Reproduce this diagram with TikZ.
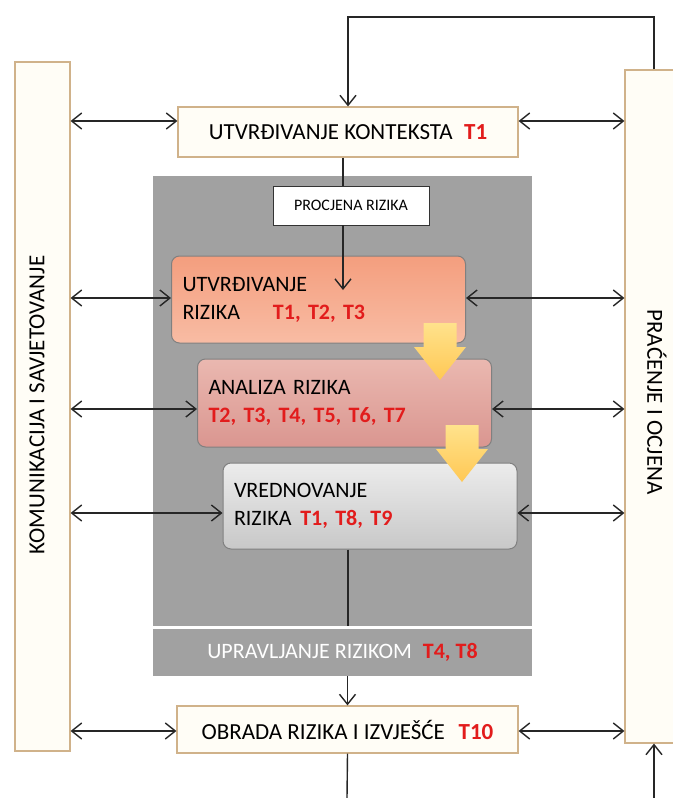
\documentclass[tikz,border=0pt]{standalone}
\usepackage{fontspec}
\setmainfont{Carlito}
\usetikzlibrary{arrows.meta}
\definecolor{boxtan}{RGB}{208,178,138}
\definecolor{boxcream}{RGB}{255,253,246}
\definecolor{areagray}{RGB}{161,161,161}
\definecolor{tred}{RGB}{226,28,28}
\definecolor{salmontop}{RGB}{244,158,126}
\definecolor{salmonbot}{RGB}{248,188,164}
\definecolor{rosetop}{RGB}{234,184,176}
\definecolor{rosebot}{RGB}{218,150,144}
\definecolor{greytop}{RGB}{236,236,236}
\definecolor{greybot}{RGB}{200,200,200}
\definecolor{ylwtop}{RGB}{255,226,140}
\definecolor{ylwbot}{RGB}{255,200,84}
\newcommand\tcode[1]{\textcolor{tred}{\textbf{#1}}}
% #1 = top centre of the fat yellow arrow
\newcommand\yellowarrow[1]{
  \path[top color=ylwtop, bottom color=ylwbot]
    (#1) ++(-8.25pt,0) -- ++(16.5pt,0) -- ++(0,-12pt) -- ++(4.75pt,0)
    -- ++(-13pt,-16.5pt) -- ++(-13pt,16.5pt) -- ++(4.75pt,0) -- cycle;
}

\begin{document}
\begin{tikzpicture}[x=0.5pt,y=-0.5pt,
    font=\fontsize{11}{14}\selectfont,
    plainbox/.style={draw=boxtan, fill=boxcream, line width=0.6pt,
      inner sep=0pt, align=center},
    stagebox/.style={plainbox, font=\fontsize{11.5}{14}\selectfont},
    riskbox/.style={draw=black!50, line width=0.5pt, rounded corners=4pt,
      top color=#1top, bottom color=#1bot,
      align=left, text width=136pt, inner xsep=5.5pt, inner ysep=0pt,
      minimum height=43.5pt},
    sidelabel/.style={font=\fontsize{11.5}{14}\selectfont},
    link/.style={line width=0.7pt, draw=black!85},
    arr/.style={link, -{Straight Barb[length=5pt,width=8pt]}},
    dbl/.style={link, {Straight Barb[length=5pt,width=8pt]}-{Straight Barb[length=5pt,width=8pt]}}
  ]
  \useasboundingbox (0,0) rectangle (673,798);
  \clip (0,0) rectangle (673,798);

  %% side boxes
  \node[plainbox, minimum width=27.5pt, minimum height=344.5pt] (komunik) at (42.5,406.5) {};
  \node[sidelabel, rotate=90] (komunik-label) at (37,405) {KOMUNIKACIJA I SAVJETOVANJE};
  \node[plainbox, minimum width=29pt, minimum height=336.5pt] (pracenje) at (654,406.5) {};
  \node[sidelabel, rotate=-90] (pracenje-label) at (657,402) {PRAĆENJE I OCJENA};

  %% context
  \node[stagebox, minimum width=170pt, minimum height=25pt] (kontekst) at (348,132)
    {UTVRĐIVANJE KONTEKSTA\hspace{0.5em}\tcode{T1}};

  %% grey assessment area
  \node[fill=areagray, minimum width=189.5pt, minimum height=225pt, inner sep=0pt] (procarea) at (342.5,401) {};
  \node[fill=areagray, minimum width=189.5pt, minimum height=23.5pt, inner sep=0pt, text=white] (upravljanje) at (342.5,652.5)
    {UPRAVLJANJE RIZIKOM\hspace{0.5em}\tcode{T4, T8}};
  \node[draw=black!80, fill=white, minimum width=78pt, minimum height=19.5pt, inner sep=0pt,
    font=\fontsize{8}{9}\selectfont] (procjena) at (351,205.5) {PROCJENA RIZIKA};

  \node[riskbox=salmon] (utvrdivanje) at (318.5,299.5) {UTVRĐIVANJE\\RIZIKA\hspace{1.5em}\tcode{T1, T2, T3}};
  \node[riskbox=rose, minimum height=44pt] (analiza) at (344.5,403) {ANALIZA RIZIKA\\\tcode{T2, T3, T4, T5, T6, T7}};
  \node[riskbox=grey, minimum height=43pt] (vrednovanje) at (370,506) {VREDNOVANJE\\RIZIKA\hspace{0.4em}\tcode{T1, T8, T9}};

  % fat arrows between the steps
  \coordinate (ystep1) at (440,323);
  \coordinate (ystep2) at (462,425);
  \yellowarrow{ystep1}
  \yellowarrow{ystep2}

  %% treatment
  \node[stagebox, minimum width=170.5pt, minimum height=23.5pt] (obrada) at (347.5,729.5)
    {OBRADA RIZIKA I IZVJEŠĆE\hspace{0.6em}\tcode{T10}};

  %% connectors
  \coordinate (looptop) at (0,17);
  \coordinate (spine) at (343,0);
  \coordinate (utvrin) at (343,290);
  \coordinate (bottomL) at (347,798);
  \coordinate (bottomR) at (654,798);

  \draw[arr] (pracenje.north) -- (pracenje.north |- looptop) -| (kontekst.north);
  \draw[link] (kontekst.south -| spine) -- (procjena.north -| spine);
  \draw[arr] (procjena.south -| spine) -- (utvrin);
  \draw[link] (vrednovanje.south -| kontekst.south) -- (procarea.south -| kontekst.south);
  \draw[arr] (upravljanje.south -| obrada.north) -- (obrada.north);
  \draw[link] (obrada.south) -- (bottomL);
  \draw[arr] (bottomR) -- (pracenje.south);

  % communication / monitoring arrows
  \foreach \nm/\dy in {kontekst/5.5pt, utvrdivanje/0.75pt, analiza/-3pt, vrednovanje/-3.5pt, obrada/-0.75pt} {
    \coordinate (inL) at ([yshift=\dy]\nm.west);
    \coordinate (inR) at ([yshift=\dy]\nm.east);
    \draw[dbl] (komunik.east |- inL) -- (inL);
    \draw[dbl] (inR) -- (pracenje.west |- inR);
  }
\end{tikzpicture}
\end{document}
